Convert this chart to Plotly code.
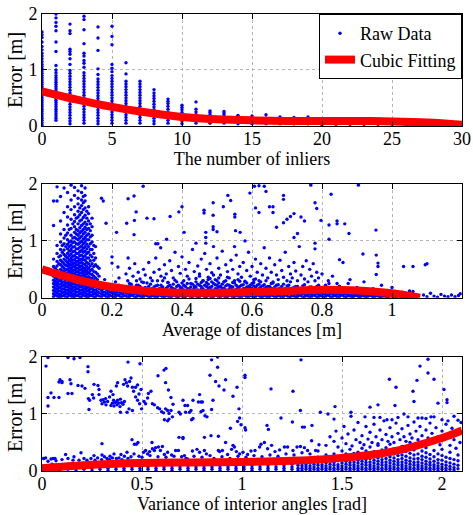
import plotly.graph_objects as go

FONT = "Liberation Serif"

# ---------------- Subplot 1: number of inliers ----------------
inlier_counts = [0, 1, 2, 3, 4, 5, 6, 7, 8, 9, 10, 11, 12, 13, 14, 15,
                 16, 17, 18, 19, 20, 21, 22, 23, 24, 25, 26, 27, 28, 29, 30]
inlier_errors = [
    [0.02, 0.06, 0.1, 0.14, 0.18, 0.22, 0.26, 0.3, 0.34, 0.38, 0.42, 0.46, 0.5, 0.54, 0.58, 0.62, 0.66, 0.7,
     0.74, 0.78, 0.82, 0.86, 0.9, 0.94, 0.98, 1.02, 1.06, 1.1, 1.15, 1.2, 1.25, 1.3, 1.36, 1.42, 1.5, 1.58, 1.63, 1.68],
    [0.1, 0.14, 0.18, 0.22, 0.26, 0.3, 0.34, 0.38, 0.42, 0.46, 0.5, 0.54, 0.58, 0.62, 0.66, 0.7, 0.74, 0.78,
     0.82, 0.86, 0.9, 0.95, 1.0, 1.08, 1.33, 1.5, 1.7, 1.78, 1.85, 1.93, 2.0],
    [0.04, 0.09, 0.14, 0.19, 0.24, 0.29, 0.34, 0.39, 0.44, 0.49, 0.54, 0.59, 0.64, 0.69, 0.74, 0.79, 0.84,
     0.89, 0.94, 0.99, 1.1, 1.2, 1.28, 1.33, 1.37, 1.65, 1.7, 1.82],
    [0.05, 0.1, 0.15, 0.2, 0.25, 0.3, 0.35, 0.4, 0.45, 0.5, 0.55, 0.6, 0.65, 0.7, 0.75, 0.8, 0.85, 0.9, 0.95,
     1.05, 1.12, 1.17, 1.25, 1.3, 1.47, 1.72, 1.9, 1.96],
    [0.04, 0.09, 0.14, 0.19, 0.24, 0.29, 0.34, 0.39, 0.44, 0.49, 0.54, 0.59, 0.64, 0.69, 0.74, 0.79, 0.84,
     0.92, 1.02, 1.35, 1.57, 1.77],
    [0.05, 0.1, 0.15, 0.2, 0.25, 0.3, 0.35, 0.4, 0.45, 0.5, 0.55, 0.6, 0.65, 0.7, 0.75, 0.8, 0.85, 0.9,
     0.97, 1.03, 1.1, 1.45, 1.6, 1.78],
    [0.05, 0.1, 0.15, 0.2, 0.25, 0.3, 0.35, 0.4, 0.45, 0.5, 0.55, 0.6, 0.65, 0.7, 0.75, 0.8, 0.93, 1.13],
    [0.05, 0.1, 0.15, 0.2, 0.25, 0.3, 0.35, 0.4, 0.45, 0.5, 0.55, 0.6, 0.65, 0.7, 0.75, 0.8],
    [0.04, 0.09, 0.14, 0.19, 0.24, 0.29, 0.34, 0.39, 0.44, 0.49, 0.54, 0.59, 0.65],
    [0.05, 0.1, 0.15, 0.2, 0.25, 0.3, 0.35, 0.4, 0.44, 0.48],
    [0.04, 0.09, 0.14, 0.19, 0.24, 0.29, 0.33, 0.37],
    [0.05, 0.1, 0.15, 0.2, 0.25, 0.3, 0.43],
    [0.05, 0.1, 0.15, 0.2, 0.24, 0.27],
    [0.05, 0.1, 0.15, 0.2, 0.23, 0.26],
    [0.04, 0.09, 0.14, 0.19],
    [0.04, 0.09, 0.14, 0.18],
    [0.04, 0.09, 0.14, 0.2],
    [0.04, 0.09, 0.13, 0.16],
    [0.04, 0.09, 0.15],
    [0.04, 0.09, 0.13, 0.16],
    [0.02, 0.06, 0.1],
    [0.03, 0.07, 0.1],
    [0.03, 0.07],
    [0.03, 0.08],
    [0.03, 0.08],
    [0.03, 0.07],
    [0.02, 0.06],
    [0.02, 0.06],
    [0.02, 0.05],
    [0.02, 0.04],
    [0.02, 0.05],
]
fit_inliers_x = [0, 2.5, 5, 7.5, 10, 12.5, 15, 17.5, 20, 22.5, 25, 27.5, 30]
fit_inliers_y = [0.62, 0.47, 0.34, 0.24, 0.16, 0.12, 0.1, 0.09, 0.09, 0.09, 0.08, 0.06, 0.02]

# ---------------- Subplot 2: average of distances ----------------
dist_columns = [
    (0.033, [0.02, 0.07, 0.13, 0.19, 0.25, 0.31, 0.38, 0.46, 0.55, 0.68, 1.27, 1.7]),
    (0.038, [0.05, 0.11, 0.17, 0.23, 0.29, 0.35, 0.43, 0.52]),
    (0.043, [0.03, 0.09, 0.15, 0.21, 0.27, 0.33, 0.4, 0.48, 0.56, 0.64, 0.78, 0.92, 1.7, 1.95]),
    (0.048, [0.01, 0.06, 0.12, 0.18, 0.24, 0.3, 0.37, 0.45, 0.6, 0.72]),
    (0.053, [0.02, 0.06, 0.12, 0.18, 0.24, 0.3, 0.36, 0.42, 0.5, 0.58, 0.66, 0.74, 0.85, 0.98, 1.12, 1.35, 1.78]),
    (0.058, [0.03, 0.09, 0.15, 0.21, 0.27, 0.33, 0.39, 0.47, 0.55, 0.63, 0.8, 0.92]),
    (0.063, [0.04, 0.1, 0.16, 0.22, 0.28, 0.34, 0.4, 0.46, 0.52, 0.6, 0.68, 0.76, 0.84, 0.95, 1.05, 1.2, 1.5, 1.93]),
    (0.068, [0.01, 0.07, 0.13, 0.19, 0.25, 0.31, 0.37, 0.43, 0.49, 0.57, 0.65, 0.73, 0.9, 1.1]),
    (0.073, [0.02, 0.08, 0.14, 0.2, 0.26, 0.32, 0.38, 0.44, 0.5, 0.56, 0.62, 0.7, 0.78, 0.86, 0.94, 1.02, 1.14,
             1.28, 1.42, 1.6, 1.85]),
    (0.078, [0.05, 0.11, 0.17, 0.23, 0.29, 0.35, 0.41, 0.47, 0.53, 0.59, 0.66, 0.74, 0.82, 0.9, 0.98, 1.2]),
    (0.083, [0.03, 0.09, 0.15, 0.21, 0.27, 0.33, 0.39, 0.45, 0.51, 0.57, 0.63, 0.69, 0.77, 0.85, 0.93, 1.0, 1.1,
             1.22, 1.38, 1.55, 1.72, 1.98]),
    (0.088, [0.01, 0.06, 0.12, 0.18, 0.24, 0.3, 0.36, 0.42, 0.48, 0.54, 0.6, 0.66, 0.73, 0.81, 0.89, 0.97, 1.05,
             1.3]),
    (0.093, [0.02, 0.07, 0.13, 0.19, 0.25, 0.31, 0.37, 0.43, 0.49, 0.55, 0.61, 0.67, 0.74, 0.82, 0.9, 0.98, 1.06,
             1.15, 1.25, 1.34, 1.46, 1.6, 1.8, 1.94]),
    (0.098, [0.04, 0.1, 0.16, 0.22, 0.28, 0.34, 0.4, 0.46, 0.52, 0.58, 0.64, 0.71, 0.78, 0.86, 0.95, 1.04, 1.12,
             1.2, 1.4]),
    (0.103, [0.04, 0.1, 0.16, 0.22, 0.28, 0.34, 0.4, 0.46, 0.52, 0.58, 0.64, 0.7, 0.78, 0.86, 0.94, 1.02, 1.1,
             1.18, 1.3, 1.42, 1.52, 1.65, 1.75, 1.88]),
    (0.108, [0.01, 0.07, 0.13, 0.19, 0.25, 0.31, 0.37, 0.43, 0.49, 0.55, 0.61, 0.67, 0.74, 0.81, 0.89, 0.97, 1.05,
             1.14, 1.23, 1.35, 1.46, 1.58]),
    (0.113, [0.02, 0.08, 0.14, 0.2, 0.26, 0.32, 0.38, 0.44, 0.5, 0.56, 0.62, 0.68, 0.75, 0.83, 0.91, 0.99, 1.08,
             1.17, 1.27, 1.37, 1.5, 1.62, 1.72, 1.85, 1.97]),
    (0.118, [0.05, 0.11, 0.17, 0.23, 0.29, 0.35, 0.41, 0.47, 0.53, 0.6, 0.67, 0.72, 0.8, 0.87, 0.95, 1.03, 1.12,
             1.2, 1.3, 1.41, 1.55, 1.67, 1.78]),
    (0.123, [0.03, 0.09, 0.15, 0.21, 0.27, 0.33, 0.39, 0.45, 0.51, 0.58, 0.66, 0.74, 0.82, 0.9, 0.98, 1.06, 1.15,
             1.24, 1.33, 1.45, 1.58, 1.7, 1.8, 1.93]),
    (0.128, [0.01, 0.06, 0.12, 0.18, 0.24, 0.3, 0.36, 0.42, 0.48, 0.55, 0.62, 0.7, 0.78, 0.86, 0.94, 1.02, 1.1,
             1.2, 1.29, 1.4, 1.52]),
    (0.133, [0.02, 0.07, 0.13, 0.19, 0.25, 0.31, 0.37, 0.44, 0.52, 0.6, 0.7, 0.8, 0.9, 1.02, 1.12, 1.22, 1.35,
             1.48, 1.6]),
    (0.138, [0.04, 0.1, 0.16, 0.22, 0.28, 0.35, 0.42, 0.48, 0.56, 0.65, 0.75, 0.85, 0.95, 1.07, 1.18, 1.3]),
    (0.143, [0.04, 0.1, 0.16, 0.22, 0.28, 0.34, 0.41, 0.5, 0.6, 0.72, 0.85, 0.98, 1.1, 1.25, 1.4]),
    (0.148, [0.01, 0.07, 0.13, 0.19, 0.25, 0.31, 0.38, 0.46, 0.55, 0.66, 0.78, 0.92]),
    (0.153, [0.02, 0.08, 0.14, 0.2, 0.27, 0.35, 0.45, 0.58, 0.7, 0.9]),
    (0.158, [0.05, 0.11, 0.18, 0.24, 0.32, 0.42, 0.55]),
    (0.163, [0.03, 0.09, 0.16, 0.25, 0.38, 0.52]),
    (0.17, [0.02, 0.07, 0.13]), (0.18, [0.04, 0.1, 0.2]), (0.19, [0.02, 0.06, 0.12]), (0.2, [0.03, 0.09, 0.16]),
    (0.21, [0.02, 0.06, 0.11]), (0.22, [0.04, 0.1, 0.22]), (0.23, [0.02, 0.07, 0.13]), (0.24, [0.03, 0.09, 0.18]),
    (0.25, [0.02, 0.06, 0.12, 0.25]), (0.26, [0.04, 0.1, 0.16]), (0.27, [0.02, 0.07, 0.13, 0.3]),
    (0.28, [0.03, 0.09, 0.2]), (0.29, [0.02, 0.06, 0.12, 0.27]), (0.3, [0.04, 0.1, 0.17]),
    (0.31, [0.02, 0.07, 0.14, 0.24]), (0.32, [0.03, 0.08, 0.19]), (0.33, [0.02, 0.06, 0.12, 0.3]),
    (0.34, [0.04, 0.1, 0.16, 0.22]), (0.35, [0.02, 0.07, 0.13, 0.35]), (0.36, [0.03, 0.09, 0.2, 0.27]),
    (0.37, [0.02, 0.06, 0.12, 0.18]), (0.38, [0.04, 0.1, 0.15, 0.31]), (0.39, [0.02, 0.07, 0.13, 0.22]),
    (0.4, [0.03, 0.09, 0.17, 0.26]), (0.41, [0.02, 0.06, 0.12, 0.2]), (0.42, [0.04, 0.1, 0.16, 0.33]),
    (0.43, [0.02, 0.07, 0.14, 0.24]), (0.44, [0.03, 0.08, 0.19, 0.28]), (0.45, [0.02, 0.06, 0.12, 0.22, 0.38]),
    (0.46, [0.04, 0.1, 0.16, 0.3]), (0.47, [0.02, 0.07, 0.13, 0.2, 0.27]), (0.48, [0.03, 0.09, 0.18, 0.34]),
    (0.49, [0.02, 0.06, 0.12, 0.25, 0.4]), (0.5, [0.04, 0.1, 0.16, 0.22, 0.3]), (0.51, [0.02, 0.07, 0.14, 0.2]),
    (0.52, [0.03, 0.09, 0.17, 0.28]), (0.53, [0.02, 0.06, 0.12, 0.23, 0.36]), (0.54, [0.04, 0.1, 0.15, 0.2]),
    (0.55, [0.02, 0.07, 0.13, 0.26]), (0.56, [0.03, 0.08, 0.18, 0.32]), (0.57, [0.02, 0.06, 0.12, 0.22]),
    (0.58, [0.04, 0.1, 0.16, 0.29]), (0.59, [0.02, 0.07, 0.14, 0.2]), (0.6, [0.03, 0.09, 0.17, 0.25]),
    (0.61, [0.02, 0.06, 0.12, 0.19, 0.33]), (0.62, [0.04, 0.1, 0.16, 0.24]), (0.63, [0.02, 0.07, 0.13, 0.21]),
    (0.64, [0.03, 0.09, 0.18, 0.3]), (0.65, [0.02, 0.06, 0.12, 0.2]), (0.66, [0.04, 0.1, 0.15, 0.26]),
    (0.67, [0.02, 0.07, 0.14, 0.22]), (0.68, [0.03, 0.08, 0.17]), (0.69, [0.02, 0.06, 0.12, 0.24]),
    (0.7, [0.04, 0.1, 0.16, 0.21]), (0.71, [0.02, 0.07, 0.13, 0.28]), (0.72, [0.03, 0.09, 0.18]),
    (0.73, [0.02, 0.06, 0.12, 0.2]), (0.74, [0.04, 0.1, 0.15]), (0.75, [0.02, 0.07, 0.14, 0.23]),
    (0.76, [0.03, 0.08, 0.17]), (0.77, [0.02, 0.06, 0.12, 0.19]), (0.78, [0.04, 0.1, 0.16]),
    (0.79, [0.02, 0.07, 0.13, 0.22]), (0.8, [0.03, 0.09, 0.17]), (0.81, [0.02, 0.06, 0.12]),
    (0.82, [0.04, 0.1, 0.16, 0.25]), (0.83, [0.02, 0.07, 0.13]), (0.84, [0.03, 0.08, 0.15]),
    (0.85, [0.02, 0.06, 0.12, 0.2]), (0.86, [0.04, 0.1]), (0.87, [0.02, 0.07, 0.13]), (0.88, [0.03, 0.08, 0.14]),
    (0.89, [0.02, 0.06, 0.11]), (0.9, [0.04, 0.09]), (0.91, [0.02, 0.07, 0.12]), (0.92, [0.03, 0.08]),
    (0.93, [0.02, 0.06, 0.1]), (0.94, [0.04, 0.08]), (0.95, [0.02, 0.06]), (0.96, [0.03, 0.07, 0.11]),
    (0.97, [0.02, 0.05]), (0.98, [0.03, 0.07]), (0.99, [0.02, 0.05]), (1.0, [0.03, 0.06]), (1.01, [0.02, 0.05]),
    (1.02, [0.03]), (1.03, [0.02, 0.05]), (1.04, [0.02]), (1.05, [0.03]), (1.06, [0.02]), (1.07, [0.01]),
    (0.175, [0.05, 0.1, 0.16]), (0.185, [0.01, 0.08, 0.14]), (0.195, [0.04, 0.1, 0.18]),
    (0.205, [0.01, 0.07, 0.13]), (0.215, [0.05, 0.1, 0.15]), (0.225, [0.01, 0.08, 0.14, 0.19]),
    (0.235, [0.04, 0.1, 0.17]), (0.245, [0.01, 0.07, 0.14]), (0.255, [0.05, 0.1, 0.15, 0.2]),
    (0.265, [0.01, 0.08, 0.13]), (0.275, [0.04, 0.1, 0.17, 0.22]), (0.285, [0.01, 0.07, 0.14]),
    (0.295, [0.05, 0.1, 0.18]), (0.305, [0.01, 0.08, 0.13, 0.2]), (0.315, [0.04, 0.1, 0.16]),
    (0.325, [0.01, 0.07, 0.14, 0.21]), (0.335, [0.05, 0.1, 0.16]), (0.345, [0.01, 0.08, 0.13, 0.19]),
    (0.355, [0.04, 0.1, 0.17]), (0.365, [0.01, 0.07, 0.14, 0.22]), (0.375, [0.05, 0.1, 0.16, 0.24]),
    (0.385, [0.01, 0.08, 0.13, 0.2]), (0.395, [0.04, 0.1, 0.15, 0.19]), (0.405, [0.01, 0.07, 0.14, 0.22]),
    (0.415, [0.05, 0.1, 0.16, 0.25]), (0.425, [0.01, 0.08, 0.13, 0.19]), (0.435, [0.04, 0.1, 0.17, 0.21]),
    (0.445, [0.01, 0.07, 0.14, 0.24]), (0.455, [0.05, 0.1, 0.15, 0.2, 0.27]), (0.465, [0.01, 0.08, 0.13, 0.22]),
    (0.475, [0.04, 0.1, 0.17, 0.24, 0.32]), (0.485, [0.01, 0.07, 0.14, 0.2, 0.28]),
    (0.495, [0.05, 0.1, 0.16, 0.23]), (0.505, [0.01, 0.08, 0.13, 0.19, 0.26, 0.35]),
    (0.515, [0.04, 0.1, 0.17, 0.24]), (0.525, [0.01, 0.07, 0.14, 0.21, 0.3]), (0.535, [0.05, 0.1, 0.16, 0.22]),
    (0.545, [0.01, 0.08, 0.13, 0.19, 0.27]), (0.555, [0.04, 0.1, 0.15, 0.22]),
    (0.565, [0.01, 0.07, 0.14, 0.2, 0.29]), (0.575, [0.05, 0.1, 0.16, 0.23]),
    (0.585, [0.01, 0.08, 0.13, 0.19, 0.26]), (0.595, [0.04, 0.1, 0.17, 0.22]),
    (0.605, [0.01, 0.07, 0.14, 0.21, 0.27]), (0.615, [0.05, 0.1, 0.15, 0.22]),
    (0.625, [0.01, 0.08, 0.13, 0.19, 0.28]), (0.635, [0.04, 0.1, 0.16, 0.23]), (0.645, [0.01, 0.07, 0.14, 0.2]),
    (0.655, [0.05, 0.1, 0.17, 0.25]), (0.665, [0.01, 0.08, 0.13, 0.19]), (0.675, [0.04, 0.1, 0.15, 0.23]),
    (0.685, [0.01, 0.07, 0.14, 0.2]), (0.695, [0.05, 0.1, 0.16]), (0.705, [0.01, 0.08, 0.13, 0.22]),
    (0.715, [0.04, 0.1, 0.17]), (0.725, [0.01, 0.07, 0.14, 0.2]), (0.735, [0.05, 0.1, 0.16]),
    (0.745, [0.01, 0.08, 0.13, 0.21]), (0.755, [0.04, 0.1, 0.15]), (0.765, [0.01, 0.07, 0.14, 0.19]),
    (0.775, [0.05, 0.1, 0.16]), (0.785, [0.01, 0.08, 0.13, 0.2]), (0.795, [0.04, 0.1, 0.15]),
    (0.805, [0.01, 0.07, 0.14]), (0.815, [0.05, 0.1, 0.18]), (0.825, [0.01, 0.08, 0.13]),
    (0.835, [0.04, 0.1, 0.16]), (0.845, [0.01, 0.07, 0.12]), (0.855, [0.05, 0.09, 0.15]),
    (0.865, [0.01, 0.07, 0.12]), (0.875, [0.04, 0.1]), (0.885, [0.01, 0.06, 0.11]), (0.895, [0.04, 0.08]),
    (0.905, [0.01, 0.06, 0.1]), (0.915, [0.04, 0.09]), (0.925, [0.01, 0.05]), (0.935, [0.04, 0.08]),
    (0.945, [0.01, 0.05, 0.09]), (0.955, [0.04, 0.08]), (0.965, [0.01, 0.05]), (0.975, [0.03, 0.07]),
    (0.985, [0.01, 0.05]), (0.995, [0.03, 0.07]), (1.005, [0.01, 0.04]), (1.015, [0.03]), (1.025, [0.01, 0.04]),
    (1.035, [0.02]), (1.045, [0.01, 0.04]), (1.055, [0.02]),
]
dist_points = [
    (1.09, 0.05), (1.1, 0.02), (1.11, 0.08), (1.12, 0.03), (1.13, 0.01), (1.14, 0.06), (1.15, 0.03),
    (1.16, 0.02), (1.17, 0.05), (1.18, 0.02), (1.19, 0.04), (1.195, 0.07), (1.1, 0.6), (1.06, 0.55), (1.03, 0.1),
    (0.21, 0.28), (0.22, 0.35), (0.23, 0.2), (0.24, 0.42), (0.245, 0.3), (0.25, 0.52), (0.255, 0.24),
    (0.26, 0.38), (0.265, 0.6), (0.27, 0.22), (0.275, 0.45), (0.28, 0.33), (0.285, 0.28), (0.29, 0.5),
    (0.295, 0.4), (0.3, 0.26), (0.305, 0.62), (0.31, 0.35), (0.315, 0.3), (0.32, 0.45), (0.325, 0.7),
    (0.33, 0.22), (0.335, 0.5), (0.34, 0.38), (0.345, 0.3), (0.35, 0.58), (0.355, 0.42), (0.36, 0.27),
    (0.365, 0.65), (0.37, 0.48), (0.375, 0.35), (0.38, 0.8), (0.385, 0.28), (0.39, 0.55), (0.395, 0.43),
    (0.4, 0.72), (0.405, 0.3), (0.41, 0.5), (0.415, 0.38), (0.42, 0.62), (0.425, 0.25), (0.43, 0.85),
    (0.435, 0.46), (0.44, 0.34), (0.445, 0.56), (0.45, 0.42), (0.455, 0.68), (0.46, 0.3), (0.465, 0.78),
    (0.47, 0.5), (0.475, 0.36), (0.48, 0.6), (0.485, 0.44), (0.49, 0.9), (0.495, 0.32), (0.5, 0.7),
    (0.505, 0.52), (0.51, 0.4), (0.515, 0.82), (0.52, 0.28), (0.525, 0.58), (0.53, 0.46), (0.535, 0.35),
    (0.54, 0.66), (0.545, 0.5), (0.55, 0.3), (0.555, 0.75), (0.56, 0.42), (0.565, 0.55), (0.57, 0.36),
    (0.575, 0.62), (0.58, 0.28), (0.585, 0.48), (0.59, 0.8), (0.595, 0.38), (0.6, 0.55), (0.605, 0.32),
    (0.61, 0.68), (0.615, 0.45), (0.62, 0.3), (0.625, 0.6), (0.63, 0.4), (0.635, 0.88), (0.64, 0.52),
    (0.645, 0.35), (0.65, 0.7), (0.655, 0.45), (0.66, 0.28), (0.665, 0.58), (0.67, 0.4), (0.675, 0.32),
    (0.68, 0.66), (0.685, 0.48), (0.69, 0.36), (0.695, 0.8), (0.7, 0.3), (0.705, 0.55), (0.71, 0.42),
    (0.715, 0.35), (0.72, 0.62), (0.725, 0.47), (0.73, 0.3), (0.735, 0.9), (0.74, 0.4), (0.745, 0.55),
    (0.75, 0.33), (0.755, 0.65), (0.76, 0.28), (0.765, 0.5), (0.77, 0.38), (0.775, 0.6), (0.78, 0.3),
    (0.785, 0.45), (0.79, 0.35),
    (0.183, 1.31), (0.213, 1.15), (0.242, 1.31), (0.246, 1.74), (0.263, 1.79), (0.269, 1.51), (0.264, 1.36),
    (0.263, 1.11), (0.289, 1.96), (0.32, 1.39), (0.325, 0.95), (0.331, 0.95), (0.339, 0.88), (0.356, 1.03),
    (0.366, 1.43), (0.391, 1.51), (0.4, 1.6), (0.406, 1.15), (0.44, 0.96), (0.463, 1.54), (0.463, 1.49),
    (0.468, 1.15), (0.468, 1.06), (0.468, 0.96), (0.489, 1.67), (0.489, 1.45), (0.489, 1.25), (0.489, 1.2),
    (0.5, 1.16), (0.518, 1.6), (0.531, 1.8), (0.539, 1.71), (0.551, 1.47), (0.551, 1.42), (0.553, 1.18),
    (0.566, 1.15), (0.594, 1.84), (0.607, 1.96), (0.62, 1.97), (0.635, 1.96), (0.61, 1.58), (0.62, 1.5),
    (0.64, 1.87), (0.65, 1.6), (0.66, 1.6), (0.66, 1.5), (0.67, 1.24), (0.69, 1.32), (0.69, 1.8), (0.69, 1.73),
    (0.7, 1.38), (0.71, 1.43), (0.72, 1.48), (0.72, 1.06), (0.73, 1.13), (0.768, 1.98), (0.826, 1.82),
    (0.904, 1.98), (0.78, 1.67), (0.785, 1.57), (0.74, 1.42), (0.75, 1.35), (0.797, 1.36), (0.82, 1.28),
    (0.843, 1.35), (0.843, 1.3), (0.865, 1.3), (0.877, 1.13), (0.954, 1.19), (0.82, 1.03), (0.78, 0.96),
    (0.78, 0.86), (0.917, 0.77), (0.955, 0.75), (0.85, 0.67), (0.86, 0.62), (0.96, 0.61), (0.96, 0.55),
    (1.033, 0.55), (1.095, 0.58), (0.955, 0.41), (0.818, 0.3), (0.843, 0.25), (0.875, 0.25), (0.946, 0.16),
    (1.05, 0.12), (1.06, 0.11), (0.2, 0.72), (0.2, 0.61), (0.246, 0.7), (0.217, 0.54), (0.179, 0.32),
    (0.17, 1.75), (0.175, 1.7), (0.3, 1.4), (0.55, 0.9), (0.58, 1.0),
    (0.8, 0.42), (0.81, 0.22), (0.83, 0.38), (0.85, 0.2), (0.88, 0.32), (0.9, 0.18), (0.92, 0.28),
    (0.97, 0.22), (1.0, 0.18),
]
fit_dist_x = [0, 0.1, 0.2, 0.3, 0.4, 0.5, 0.6, 0.7, 0.8, 0.9, 1.0, 1.08]
fit_dist_y = [0.5, 0.32, 0.19, 0.12, 0.09, 0.09, 0.1, 0.12, 0.14, 0.13, 0.08, 0.0]

# ---------------- Subplot 3: variance of interior angles ----------------
angle_columns = [
    (0.01, [0.01, 0.05, 0.09]), (0.05, [0.03, 0.07, 0.12]), (0.09, [0.01, 0.05, 0.09]), (0.13, [0.03, 0.07, 0.12]),
    (0.17, [0.01, 0.05, 0.09]), (0.21, [0.03, 0.07, 0.12]), (0.25, [0.01, 0.05, 0.09]), (0.29, [0.03, 0.07, 0.12]),
    (0.33, [0.01, 0.05, 0.09]), (0.37, [0.03, 0.07, 0.12]), (0.41, [0.01, 0.05, 0.09]), (0.45, [0.03, 0.07, 0.12]),
    (0.49, [0.01, 0.05, 0.09]), (0.53, [0.03, 0.07, 0.12]), (0.57, [0.01, 0.05, 0.09]), (0.61, [0.03, 0.07, 0.12]),
    (0.65, [0.01, 0.05, 0.09]), (0.69, [0.03, 0.07, 0.12]), (0.73, [0.01, 0.05, 0.09]), (0.77, [0.03, 0.07, 0.12]),
    (0.81, [0.01, 0.05, 0.09]), (0.85, [0.03, 0.07, 0.12]), (0.89, [0.01, 0.05, 0.09]), (0.93, [0.03, 0.07, 0.12]),
    (0.97, [0.01, 0.05, 0.09]), (1.01, [0.03, 0.07, 0.12]), (1.05, [0.01, 0.05, 0.09]), (1.09, [0.03, 0.07, 0.12]),
    (1.13, [0.01, 0.05, 0.09]), (1.17, [0.03, 0.07, 0.12]), (1.21, [0.01, 0.05, 0.09]), (1.25, [0.03, 0.07, 0.12]),
    (1.28, [0.01, 0.05, 0.1]),
    (1.30, [0.01, 0.05, 0.09, 0.13]), (1.32, [0.03, 0.07, 0.11, 0.16]), (1.34, [0.01, 0.05, 0.09, 0.14, 0.2]),
    (1.36, [0.03, 0.07, 0.12, 0.17]), (1.38, [0.01, 0.05, 0.1, 0.15, 0.24]), (1.40, [0.03, 0.07, 0.11, 0.18, 0.22]),
    (1.42, [0.01, 0.05, 0.09, 0.14, 0.2, 0.28]), (1.44, [0.03, 0.07, 0.12, 0.17, 0.25]),
    (1.46, [0.01, 0.05, 0.1, 0.15, 0.21, 0.3]), (1.48, [0.03, 0.07, 0.11, 0.18, 0.24]),
    (1.50, [0.01, 0.05, 0.09, 0.14, 0.2, 0.27, 0.35]), (1.52, [0.03, 0.07, 0.12, 0.17, 0.23, 0.3]),
    (1.54, [0.01, 0.05, 0.1, 0.15, 0.21, 0.26, 0.38]), (1.56, [0.03, 0.07, 0.11, 0.16, 0.22, 0.31]),
    (1.58, [0.01, 0.05, 0.09, 0.14, 0.19, 0.25, 0.33]), (1.60, [0.03, 0.07, 0.12, 0.17, 0.23, 0.29, 0.4]),
    (1.62, [0.01, 0.05, 0.1, 0.15, 0.2, 0.27, 0.35]), (1.64, [0.03, 0.07, 0.11, 0.16, 0.22, 0.3, 0.42]),
    (1.66, [0.01, 0.05, 0.09, 0.14, 0.19, 0.25, 0.34]), (1.68, [0.03, 0.07, 0.12, 0.17, 0.23, 0.31, 0.45]),
    (1.70, [0.01, 0.05, 0.1, 0.15, 0.2, 0.26, 0.37]), (1.72, [0.03, 0.07, 0.11, 0.16, 0.22, 0.29, 0.41]),
    (1.74, [0.01, 0.05, 0.09, 0.14, 0.19, 0.25, 0.33, 0.47]), (1.76, [0.03, 0.07, 0.12, 0.17, 0.23, 0.3, 0.39]),
    (1.78, [0.01, 0.05, 0.1, 0.15, 0.2, 0.27, 0.36]), (1.80, [0.03, 0.07, 0.11, 0.16, 0.22, 0.28, 0.43]),
    (1.82, [0.01, 0.05, 0.09, 0.14, 0.19, 0.26, 0.34]), (1.84, [0.03, 0.07, 0.12, 0.17, 0.23, 0.31, 0.4, 0.5]),
    (1.86, [0.01, 0.05, 0.1, 0.15, 0.21, 0.28, 0.37]), (1.88, [0.03, 0.07, 0.11, 0.16, 0.22, 0.3, 0.44]),
    (1.90, [0.01, 0.05, 0.09, 0.14, 0.2, 0.26, 0.35]), (1.92, [0.03, 0.07, 0.12, 0.17, 0.24, 0.32, 0.41]),
    (1.94, [0.01, 0.05, 0.1, 0.15, 0.21, 0.29]), (1.96, [0.03, 0.07, 0.11, 0.17, 0.25, 0.36]),
    (1.98, [0.01, 0.05, 0.09, 0.14, 0.2, 0.3]), (2.00, [0.03, 0.07, 0.12, 0.19, 0.27, 0.38]),
    (2.02, [0.01, 0.05, 0.1, 0.16, 0.24]), (2.04, [0.03, 0.08, 0.14, 0.22, 0.33]),
    (2.06, [0.02, 0.06, 0.12, 0.2]), (2.08, [0.04, 0.1, 0.18, 0.28]),
]
angle_points = [
    (0.03, 1.99), (0.02, 1.84), (0.13, 1.99), (0.16, 1.97), (0.19, 1.99), (0.23, 1.83), (0.23, 1.74),
    (0.43, 1.91), (0.49, 1.88), (0.62, 1.8), (0.61, 1.77), (0.58, 1.67),
    (0.09, 1.6), (0.1, 1.57), (0.085, 1.56), (0.1, 1.55), (0.14, 1.6), (0.145, 1.53), (0.18, 1.5), (0.2, 1.49),
    (0.215, 1.45), (0.15, 1.36), (0.13, 1.36), (0.045, 1.37), (0.03, 1.29), (0.06, 1.29), (0.085, 1.29),
    (0.03, 1.14), (0.26, 1.52), (0.28, 1.5), (0.285, 1.43), (0.285, 1.34), (0.232, 1.27), (0.238, 1.24),
    (0.252, 1.34), (0.258, 1.28),
    (0.295, 1.24), (0.305, 1.25), (0.312, 1.21), (0.318, 1.27), (0.328, 1.22), (0.338, 1.3), (0.352, 1.19),
    (0.358, 1.24), (0.365, 1.2), (0.372, 1.21), (0.378, 1.24), (0.385, 1.19), (0.392, 1.26), (0.398, 1.2),
    (0.405, 1.17), (0.412, 1.22), (0.345, 1.15), (0.36, 1.14), (0.375, 1.16), (0.39, 1.13), (0.3, 1.18),
    (0.32, 1.16),
    (0.345, 1.4), (0.355, 1.34), (0.372, 1.49), (0.378, 1.55), (0.408, 1.52), (0.415, 1.6), (0.422, 1.55),
    (0.428, 1.49), (0.438, 1.57), (0.445, 1.63),
    (0.452, 1.47), (0.458, 1.4), (0.468, 1.47), (0.478, 1.51), (0.485, 1.35), (0.495, 1.43), (0.468, 1.3),
    (0.478, 1.24), (0.488, 1.18), (0.498, 1.09), (0.51, 1.22), (0.518, 1.18), (0.528, 1.28), (0.532, 1.36),
    (0.545, 1.4),
    (0.552, 1.18), (0.562, 1.16), (0.578, 1.11), (0.588, 1.09), (0.598, 1.04), (0.608, 1.02), (0.618, 1.09),
    (0.628, 1.06), (0.635, 1.01), (0.645, 1.06), (0.652, 0.95), (0.628, 0.88), (0.635, 0.91), (0.612, 0.9),
    (0.618, 1.55), (0.632, 1.42), (0.645, 1.29), (0.655, 1.17),
    (0.435, 1.09), (0.452, 1.06), (0.425, 1.03), (0.392, 1.03), (0.235, 1.08), (0.685, 1.03), (0.692, 1.0),
    (0.685, 0.59), (0.705, 0.59),
    (0.008, 0.22), (0.018, 0.23), (0.045, 0.21), (0.055, 0.22), (0.065, 0.22), (0.118, 0.29), (0.155, 0.19),
    (0.185, 0.19), (0.195, 0.32), (0.225, 0.19), (0.245, 0.22), (0.265, 0.19), (0.278, 0.23), (0.298, 0.2),
    (0.312, 0.25), (0.325, 0.22), (0.338, 0.2), (0.352, 0.23), (0.372, 0.22), (0.385, 0.23), (0.395, 0.29),
    (0.412, 0.26), (0.425, 0.33), (0.445, 0.25), (0.462, 0.47), (0.472, 0.47), (0.485, 0.26), (0.508, 0.33),
    (0.518, 0.36), (0.528, 0.3), (0.538, 0.34), (0.552, 0.39), (0.562, 0.36), (0.568, 0.41), (0.582, 0.42),
    (0.592, 0.36), (0.602, 0.43), (0.612, 0.29), (0.628, 0.33), (0.648, 0.28), (0.668, 0.36), (0.682, 0.36),
    (0.698, 0.25), (0.712, 0.27), (0.728, 0.21),
    (0.03, 0.17), (0.07, 0.18), (0.1, 0.2), (0.13, 0.22), (0.16, 0.25), (0.21, 0.22), (0.26, 0.27), (0.3, 0.28),
    (0.34, 0.26), (0.36, 0.3), (0.4, 0.2), (0.43, 0.22), (0.46, 0.3), (0.5, 0.24), (0.54, 0.27), (0.58, 0.25),
    (0.62, 0.24), (0.66, 0.26), (0.3, 0.48), (0.45, 0.55), (0.55, 0.5), (0.48, 0.5),
    (0.878, 2.0), (0.848, 1.95), (0.878, 1.82), (0.84, 1.68), (0.868, 1.57), (0.918, 1.6), (0.885, 1.49),
    (0.91, 1.42), (0.955, 1.31), (0.975, 1.47), (1.015, 1.68), (1.015, 1.64), (1.145, 1.44), (1.255, 1.4),
    (1.295, 1.95),
    (0.788, 1.34), (0.795, 1.21), (0.782, 1.21), (0.802, 1.21), (0.755, 1.24), (0.705, 1.24), (0.715, 1.15),
    (0.728, 1.15), (0.738, 1.03), (0.745, 1.06), (0.718, 1.03), (0.755, 0.92), (0.748, 0.9), (0.795, 1.04),
    (0.805, 1.06), (0.815, 0.97), (0.825, 0.95), (0.855, 1.24), (0.848, 1.08), (0.985, 1.09), (0.988, 0.93),
    (0.978, 0.87), (0.995, 0.81), (1.015, 0.76), (1.018, 0.72), (0.942, 0.75), (0.845, 0.62), (0.812, 0.59),
    (0.918, 0.5), (0.705, 0.57), (0.882, 0.61), (0.955, 0.45), (0.962, 0.42), (1.125, 0.8), (1.132, 0.73),
    (1.195, 0.93), (1.252, 0.86), (1.302, 0.77), (1.312, 0.77), (1.292, 1.06), (1.392, 1.03),
    (0.752, 0.35), (0.775, 0.38), (0.788, 0.33), (0.812, 0.36), (0.822, 0.3), (0.882, 0.36), (0.888, 0.34),
    (0.902, 0.36), (0.928, 0.29), (0.948, 0.38), (0.972, 0.34), (0.988, 0.3), (1.005, 0.33), (1.028, 0.29),
    (1.045, 0.35), (1.065, 0.36), (1.088, 0.42), (1.095, 0.47), (1.112, 0.5), (1.128, 0.39), (1.148, 0.45),
    (1.165, 0.34), (1.188, 0.37), (1.212, 0.42), (1.228, 0.42), (1.255, 0.36), (1.275, 0.42), (1.292, 0.43),
    (1.312, 0.41), (1.328, 0.36), (1.348, 0.53), (1.368, 0.36), (1.385, 0.46),
    (0.72, 0.22), (0.76, 0.26), (0.8, 0.24), (0.84, 0.27), (0.86, 0.22), (0.9, 0.25), (0.94, 0.22), (0.98, 0.26),
    (1.02, 0.24), (1.06, 0.27), (1.1, 0.25), (1.14, 0.28), (1.18, 0.26), (1.22, 0.3), (1.26, 0.28), (1.3, 0.32),
    (1.34, 0.3), (1.38, 0.35),
    (1.875, 1.59), (1.89, 1.84), (1.855, 1.4), (1.93, 1.96), (1.93, 1.72), (1.96, 1.61), (1.737, 1.61),
    (1.77, 1.47), (1.86, 1.22), (1.98, 1.19), (2.025, 1.2), (2.025, 1.25), (2.01, 1.43), (1.64, 1.12),
    (1.68, 1.16), (1.765, 1.15), (1.545, 1.03), (1.545, 0.96), (1.46, 0.91), (1.465, 1.13), (1.615, 0.95),
    (1.66, 0.94), (1.69, 0.94), (1.725, 0.9), (1.75, 0.9), (1.78, 0.94), (1.81, 1.0), (1.83, 0.95), (1.88, 0.93),
    (1.9, 0.93), (1.92, 0.92), (1.945, 0.95), (1.96, 0.95), (2.0, 0.9), (2.03, 0.88), (2.06, 0.96), (2.08, 0.89),
    (1.35, 0.8), (1.43, 1.0),
    (1.42, 0.45), (1.44, 0.6), (1.46, 0.52), (1.47, 0.7), (1.48, 0.42), (1.5, 0.58), (1.51, 0.78), (1.52, 0.48),
    (1.53, 0.65), (1.55, 0.44), (1.56, 0.72), (1.57, 0.55), (1.58, 0.85), (1.59, 0.5), (1.6, 0.62), (1.61, 0.46),
    (1.62, 0.78), (1.63, 0.56), (1.64, 0.68), (1.65, 0.5), (1.66, 0.82), (1.67, 0.6), (1.68, 0.48), (1.69, 0.72),
    (1.7, 0.55), (1.71, 0.88), (1.72, 0.64), (1.73, 0.52), (1.74, 0.76), (1.75, 0.6), (1.76, 0.5), (1.77, 0.84),
    (1.78, 0.66), (1.79, 0.55), (1.8, 0.74), (1.81, 0.6), (1.82, 0.52), (1.83, 0.8), (1.84, 0.65), (1.85, 0.58),
    (1.86, 0.86), (1.87, 0.7), (1.88, 0.55), (1.89, 0.78), (1.9, 0.62), (1.91, 0.5), (1.92, 0.72), (1.93, 0.58),
    (1.94, 0.84), (1.95, 0.66), (1.96, 0.52), (1.97, 0.76), (1.98, 0.6), (1.99, 0.46), (2.0, 0.7), (2.01, 0.55),
    (2.02, 0.82), (2.03, 0.62), (2.04, 0.45), (2.05, 0.75), (2.06, 0.55), (2.07, 0.4), (2.08, 0.65), (2.09, 0.5),
    (2.095, 0.85),
]
fit_angle_x = [0, 0.25, 0.5, 0.75, 1.0, 1.25, 1.5, 1.75, 2.0, 2.1]
fit_angle_y = [0.05, 0.11, 0.14, 0.15, 0.16, 0.18, 0.23, 0.34, 0.58, 0.71]

x_titles = ["The number of inliers", "Average of distances [m]", "Variance of interior angles [rad]"]
y_title = "Error [m]"
legend_names = ["Raw Data", "Cubic Fitting"]


def flatten(columns, points=()):
    xs, ys = [], []
    for cx, cys in columns:
        xs += [cx] * len(cys)
        ys += list(cys)
    for px, py in points:
        xs.append(px)
        ys.append(py)
    return xs, ys


x1, y1 = flatten(list(zip(inlier_counts, inlier_errors)))
x2, y2 = flatten(dist_columns, dist_points)
x3, y3 = flatten(angle_columns, angle_points)

BLUE = "#0000ff"
RED = "#ff0000"
MSIZE = 3.4
LW = 8

fig = go.Figure()
panels = [
    (x1, y1, fit_inliers_x, fit_inliers_y, "x", "y"),
    (x2, y2, fit_dist_x, fit_dist_y, "x2", "y2"),
    (x3, y3, fit_angle_x, fit_angle_y, "x3", "y3"),
]
for i, (sx, sy, fx, fy, xa, ya) in enumerate(panels):
    fig.add_trace(go.Scatter(x=sx, y=sy, mode="markers", name=legend_names[0],
                             marker=dict(color=BLUE, size=MSIZE, line=dict(width=0)),
                             xaxis=xa, yaxis=ya, showlegend=(i == 0), cliponaxis=True))
    fig.add_trace(go.Scatter(x=fx, y=fy, mode="lines", name=legend_names[1],
                             line=dict(color=RED, width=LW, shape="spline", smoothing=1.0),
                             xaxis=xa, yaxis=ya, showlegend=(i == 0)))

tickfont = dict(family=FONT, size=18, color="black")
titlefont = dict(family=FONT, size=18, color="black")
ytitlefont = dict(family=FONT, size=20, color="black")
common = dict(showline=True, linecolor="black", linewidth=1, mirror="ticks", ticks="inside",
              ticklen=5, tickcolor="black", showgrid=True, gridcolor="#b4b4b4", griddash="dot",
              gridwidth=1, zeroline=False, tickfont=tickfont, automargin=False)

x_ranges = [[0, 30], [0, 1.2], [0, 2.1]]
x_dticks = [5, 0.2, 0.5]
y_domains = [[0.755, 1.0], [0.379, 0.628], [0.0, 0.2495]]

layout = dict(
    width=473, height=515,
    margin=dict(l=42, r=11, t=14, b=44),
    paper_bgcolor="white", plot_bgcolor="white",
    font=dict(family=FONT, size=18, color="black"),
    showlegend=True,
    legend=dict(x=1, y=1, xanchor="right", yanchor="top", bgcolor="white",
                bordercolor="black", borderwidth=1, font=dict(family=FONT, size=18, color="black"),
                itemwidth=30, tracegroupgap=0),
)
for i in range(3):
    sfx = "" if i == 0 else str(i + 1)
    layout["xaxis" + sfx] = dict(common, domain=[0, 1], range=x_ranges[i], dtick=x_dticks[i], tick0=0,
                                 anchor="y" + sfx, ticklabelstandoff=-4,
                                 title=dict(text=x_titles[i], font=titlefont, standoff=0))
    layout["yaxis" + sfx] = dict(common, domain=y_domains[i], range=[0, 2], dtick=1, tick0=0,
                                 anchor="x" + sfx,
                                 title=dict(text=y_title, font=ytitlefont, standoff=0))
fig.update_layout(**layout)
fig.write_html("out.html", config={"displayModeBar": False},
               post_script="document.body.style.margin='0px';")
